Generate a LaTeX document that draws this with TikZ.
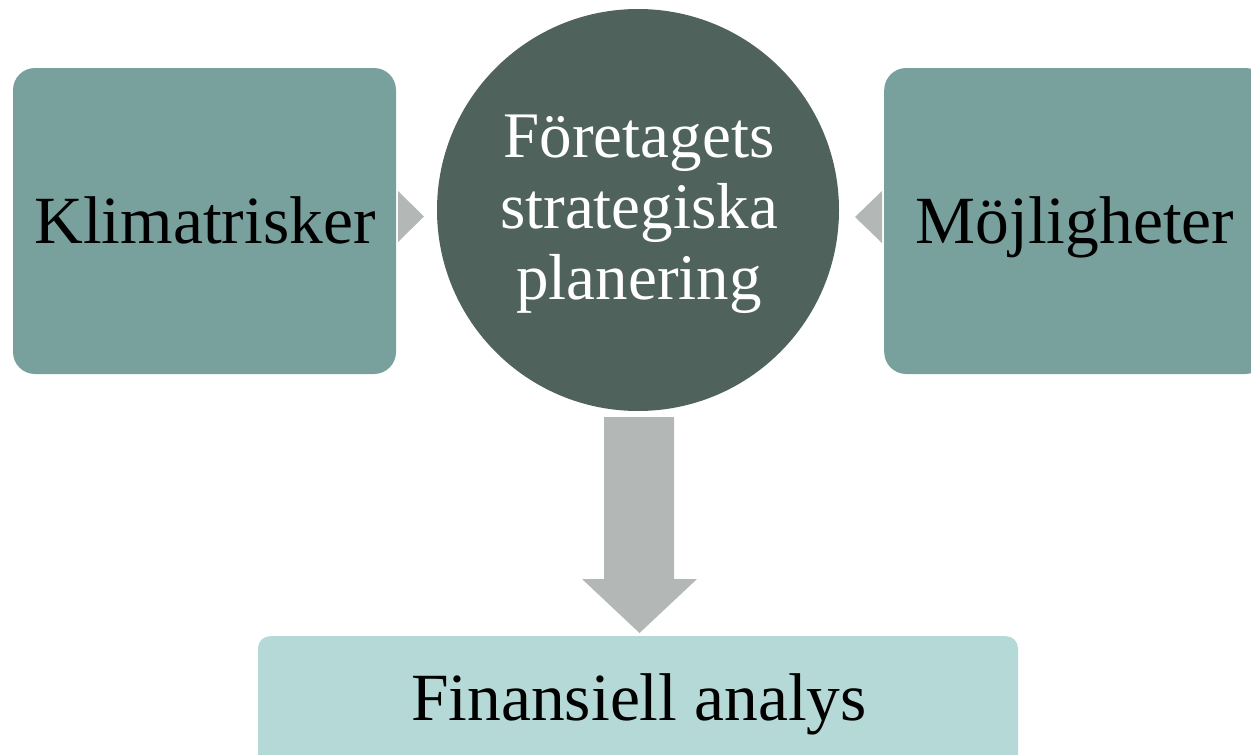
\documentclass[tikz,border=0pt]{standalone}
\usepackage{fontspec}
\setmainfont{Liberation Serif}
\definecolor{boxteal}{HTML}{78A09D}
\definecolor{circdark}{HTML}{4F635C}
\definecolor{arrgray}{HTML}{B3B7B6}
\definecolor{lightteal}{HTML}{B4D9D6}
\tikzset{
  sidebox/.style={fill=boxteal, rounded corners=22pt, minimum width=383pt, minimum height=306pt, inner sep=0pt},
  bigtext/.style={font=\fontsize{67.5}{70}\selectfont, text=black, inner sep=0pt},
  tri/.style={fill=arrgray},
}
\begin{document}
\begin{tikzpicture}[x=1pt,y=-1pt]
\useasboundingbox (0,0) rectangle (1251,755);
\node[sidebox, anchor=center] (left) at (204.5,221) {};
\node[sidebox, anchor=west] (right) at (884,221) {};
\node[circle, fill=circdark, minimum size=402pt, inner sep=0pt] (mid) at (638,210) {};
\node[fill=lightteal, rounded corners=12pt, minimum width=760pt, minimum height=150pt, inner sep=0pt, anchor=north] (bottom) at (638,636) {};
% labels
\node[bigtext, anchor=base] (ltxt) at (205,243) {Klimatrisker};
\node[bigtext, anchor=base] (rtxt) at (1075,243) {Möjligheter};
\node[font=\fontsize{65}{71}\selectfont, text=white, align=center, anchor=center, inner sep=0pt] (mtxt) at (639,214) {Företagets\\strategiska\\planering};
\node[bigtext, anchor=base] (btxt) at (639,720) {Finansiell analys};
% connectors
\coordinate (la) at (398,191);
\coordinate (lb) at (398,242);
\coordinate (lt) at (424,216.5);
\fill[tri] (la) -- (lt) -- (lb) -- cycle;
\coordinate (ra) at (882,191);
\coordinate (rb) at (882,243);
\coordinate (rt) at (855,217);
\fill[tri] (ra) -- (rt) -- (rb) -- cycle;
\coordinate (s1) at (604,417);
\coordinate (s2) at (674,417);
\fill[tri] (s1) -- (s2) -- (674,579) -- (697,579) -- (639.5,633) -- (582,579) -- (604,579) -- cycle;
\end{tikzpicture}
\end{document}
